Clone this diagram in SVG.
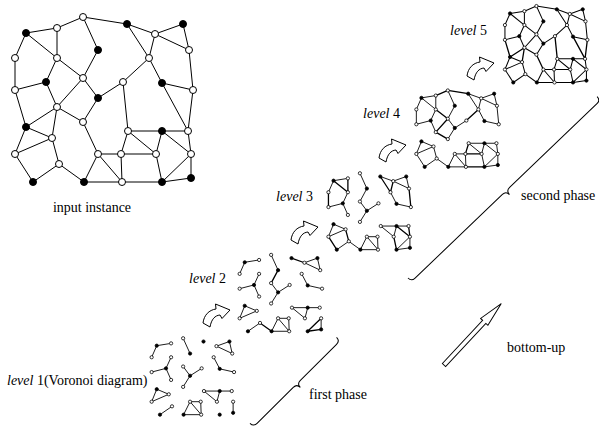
<svg xmlns="http://www.w3.org/2000/svg" xmlns:xlink="http://www.w3.org/1999/xlink" width="599" height="426" viewBox="0 0 599 426">
  <style>
    .t { font-family: "Liberation Serif", "Times New Roman", serif; font-size: 14px; fill: #000; }
    .it { font-style: italic; }
    .ln { fill: none; stroke: #000; }
    .shape { fill: #fff; stroke: #000; stroke-width: 1; stroke-linejoin: miter; }
    .brace { fill: none; stroke: #000; stroke-width: 1; }
  </style>
  <defs>
    <!-- edges of the graph, grouped by the level at which they first appear -->
    <path id="e1" d="M26,33L57,28M26,33L15,58M83,17L98,50M155,34L183,24M183,24L189,50M155,34L189,50M149,58L162,83M162,83L193,90M57,58L46,82M15,90L46,82M46,82L57,107M83,78L98,98M98,98L123,82M98,98L83,122M26,127L52,138M26,127L15,154M52,138L15,154M33,182L59,164M84,182L98,154M98,154L121,154M121,154L122,182M98,154L122,182M84,182L122,182M128,131L162,131M162,131L188,131M128,131L156,154M162,131L156,154M191,154L191,178"/>
    <path id="e2" d="M98,50L83,78M127,24L155,34M59,164L84,182M162,182L191,154M162,182L191,178"/>
    <path id="e3" d="M57,28L57,58M26,33L57,58M15,58L15,90M155,34L149,58M127,24L149,58M189,50L193,90M52,138L59,164M15,154L33,182M162,131L191,154M188,131L191,154M156,154L162,182"/>
    <path id="e4" d="M57,28L83,17M83,17L127,24M149,58L123,82M57,58L83,78M83,78L57,107M57,107L83,122M121,154L156,154M128,131L121,154M122,182L162,182"/>
    <path id="e5" d="M193,90L188,131M162,83L188,131M15,90L26,127M26,127L57,107M57,107L52,138M83,122L98,154M128,131L123,82"/>
    <!-- vertices -->
    <g id="vs" stroke="#000">
      <circle cx="83" cy="17" r="3.5" fill="#fff"/>
      <circle cx="127" cy="24" r="3.5" fill="#000"/>
      <circle cx="183" cy="24" r="3.5" fill="#000"/>
      <circle cx="155" cy="34" r="3.5" fill="#fff"/>
      <circle cx="57" cy="28" r="3.5" fill="#fff"/>
      <circle cx="26" cy="33" r="3.5" fill="#000"/>
      <circle cx="189" cy="50" r="3.5" fill="#fff"/>
      <circle cx="98" cy="50" r="3.5" fill="#000"/>
      <circle cx="15" cy="58" r="3.5" fill="#fff"/>
      <circle cx="57" cy="58" r="3.5" fill="#fff"/>
      <circle cx="149" cy="58" r="3.5" fill="#fff"/>
      <circle cx="83" cy="78" r="3.5" fill="#fff"/>
      <circle cx="46" cy="82" r="3.5" fill="#000"/>
      <circle cx="123" cy="82" r="3.5" fill="#fff"/>
      <circle cx="162" cy="83" r="3.5" fill="#000"/>
      <circle cx="15" cy="90" r="3.5" fill="#fff"/>
      <circle cx="193" cy="90" r="3.5" fill="#fff"/>
      <circle cx="98" cy="98" r="3.5" fill="#000"/>
      <circle cx="57" cy="107" r="3.5" fill="#fff"/>
      <circle cx="83" cy="122" r="3.5" fill="#fff"/>
      <circle cx="26" cy="127" r="3.5" fill="#000"/>
      <circle cx="128" cy="131" r="3.5" fill="#fff"/>
      <circle cx="162" cy="131" r="3.5" fill="#000"/>
      <circle cx="188" cy="131" r="3.5" fill="#fff"/>
      <circle cx="52" cy="138" r="3.5" fill="#fff"/>
      <circle cx="15" cy="154" r="3.5" fill="#fff"/>
      <circle cx="98" cy="154" r="3.5" fill="#fff"/>
      <circle cx="121" cy="154" r="3.5" fill="#fff"/>
      <circle cx="156" cy="154" r="3.5" fill="#fff"/>
      <circle cx="191" cy="154" r="3.5" fill="#fff"/>
      <circle cx="59" cy="164" r="3.5" fill="#fff"/>
      <circle cx="191" cy="178" r="3.5" fill="#000"/>
      <circle cx="33" cy="182" r="3.5" fill="#000"/>
      <circle cx="84" cy="182" r="3.5" fill="#000"/>
      <circle cx="122" cy="182" r="3.5" fill="#fff"/>
      <circle cx="162" cy="182" r="3.5" fill="#000"/>
    </g>
    <!-- curved step arrow -->
    <path id="turn" class="shape" d="M0,20 C1,12 6,7 13,6 L12.5,1 L27,7 L19,15.5 L17,12 C12,12.5 8.5,16 7,24 Z"/>
  </defs>

  <!-- input instance -->
  <g id="input-instance" class="ln" stroke-width="1">
    <use href="#e1"/><use href="#e2"/><use href="#e3"/><use href="#e4"/><use href="#e5"/>
    <use href="#vs"/>
  </g>
  <text class="t" x="92" y="212" text-anchor="middle">input instance</text>

  <!-- level 1 -->
  <g id="level-1" class="ln" transform="translate(144.7,330.4) scale(0.463)" stroke-width="1.9">
    <use href="#e1"/>
    <use href="#vs" stroke-width="1.7"/>
  </g>
  <!-- level 2 -->
  <g id="level-2" class="ln" transform="translate(232.7,247) scale(0.463)" stroke-width="1.9">
    <use href="#e1"/><use href="#e2" stroke-width="2.8"/>
    <use href="#vs" stroke-width="1.7"/>
  </g>
  <!-- level 3 -->
  <g id="level-3" class="ln" transform="translate(321.5,165.4) scale(0.463)" stroke-width="1.9">
    <use href="#e1"/><use href="#e2"/><use href="#e3" stroke-width="2.8"/>
    <use href="#vs" stroke-width="1.7"/>
  </g>
  <!-- level 4 -->
  <g id="level-4" class="ln" transform="translate(409.4,82.6) scale(0.463)" stroke-width="1.9">
    <use href="#e1"/><use href="#e2"/><use href="#e3"/><use href="#e4" stroke-width="2.8"/>
    <use href="#vs" stroke-width="1.7"/>
  </g>
  <!-- level 5 -->
  <g id="level-5" class="ln" transform="translate(498,-1.8) scale(0.463)" stroke-width="2.2">
    <use href="#e1"/><use href="#e2"/><use href="#e3"/><use href="#e4"/><use href="#e5" stroke-width="2.8"/>
    <use href="#vs" stroke-width="1.7"/>
  </g>

  <!-- level labels -->
  <text class="t" x="7" y="385" font-size="12.5"><tspan class="it">level</tspan> 1(Voronoi diagram)</text>
  <text class="t" x="226" y="283" text-anchor="end"><tspan class="it">level</tspan> 2</text>
  <text class="t" x="313" y="201" text-anchor="end"><tspan class="it">level</tspan> 3</text>
  <text class="t" x="400" y="118" text-anchor="end"><tspan class="it">level</tspan> 4</text>
  <text class="t" x="487" y="35" text-anchor="end"><tspan class="it">level</tspan> 5</text>

  <!-- step arrows between levels -->
  <g id="steps">
    <use href="#turn" transform="translate(203,303)"/>
    <use href="#turn" transform="translate(291,220)"/>
    <use href="#turn" transform="translate(379,138)"/>
    <use href="#turn" transform="translate(467,56)"/>
  </g>

  <!-- phase braces -->
  <g id="phase-first">
    <path class="brace" transform="translate(250,423.3) rotate(-44.8)" d="M0,0 Q0,5 5,5 L56,5 Q61,5 61,10 Q61,5 66,5 L117,5 Q122,5 122,0"/>
    <text class="t" x="309" y="399">first phase</text>
  </g>
  <g id="phase-second">
    <path class="brace" transform="translate(408,278) rotate(-43.8)" d="M0,0 Q0,5 5,5 L126,5 Q131,5 131,10 Q131,5 136,5 L257,5 Q262,5 262,0"/>
    <text class="t" x="521" y="200">second phase</text>
  </g>

  <!-- bottom-up arrow -->
  <g id="bottom-up">
    <path class="shape" transform="translate(444,365) rotate(-47)" d="M0,-2.2 L59,-2.2 L59,-5 L84,0 L59,5 L59,2.2 L0,2.2 Z"/>
    <text class="t" x="507" y="352">bottom-up</text>
  </g>
</svg>
